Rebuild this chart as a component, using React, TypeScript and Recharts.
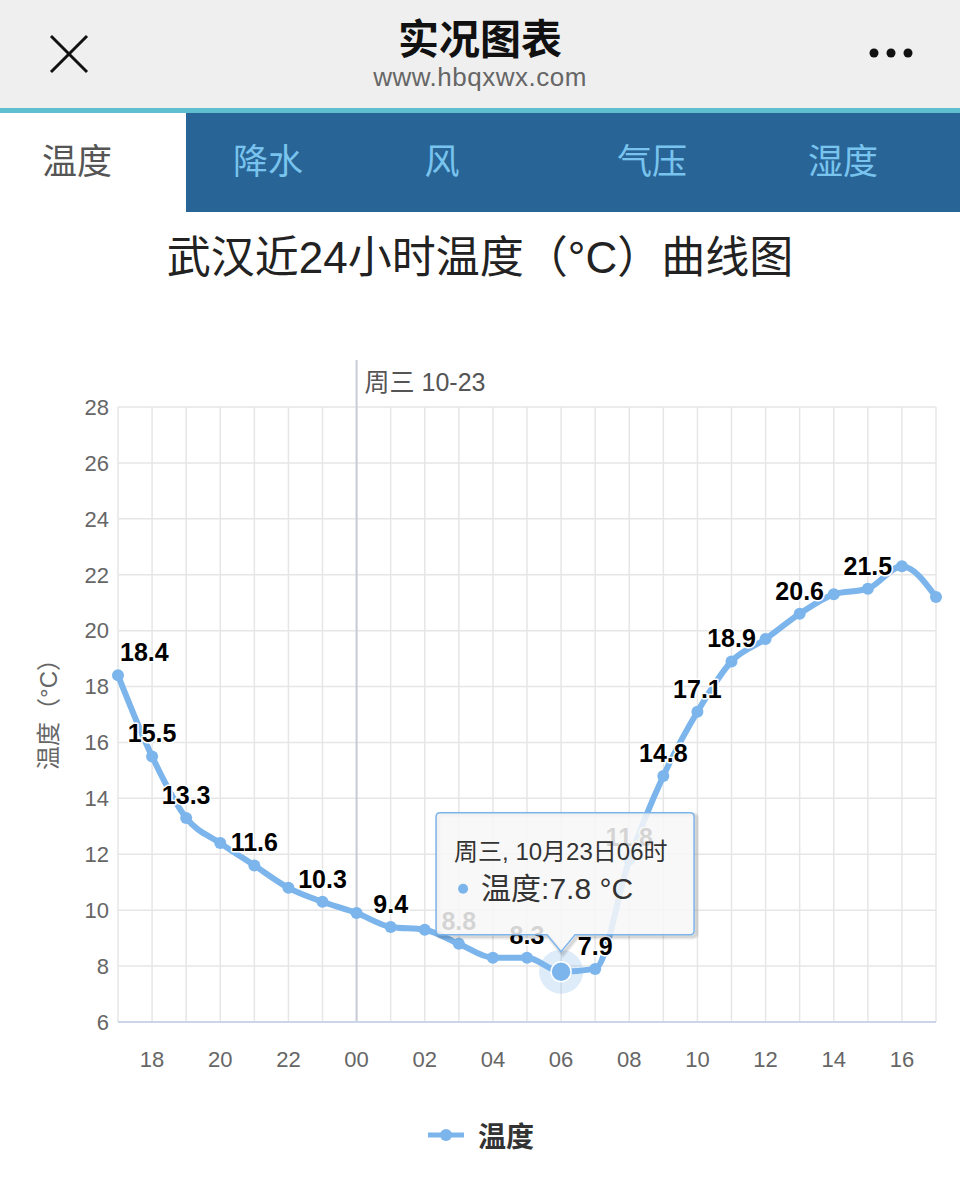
import React from 'react';
import {
  LineChart, Line, XAxis, YAxis, CartesianGrid, LabelList, Legend,
  ReferenceLine, ReferenceDot,
} from 'recharts';

// ---------- data ----------
const hours = ['17','18','19','20','21','22','23','00','01','02','03','04','05','06','07','08','09','10','11','12','13','14','15','16','17'];
const temps = [18.4,15.5,13.3,12.4,11.6,10.8,10.3,9.9,9.4,9.3,8.8,8.3,8.3,7.8,7.9,11.8,14.8,17.1,18.9,19.7,20.6,21.3,21.5,22.3,21.2];
const labelledIndices = [0,1,2,4,6,8,10,12,14,15,16,17,18,20,22];
const xTickLabels = ['18','20','22','00','02','04','06','08','10','12','14','16'];
const yTicks = [6,8,10,12,14,16,18,20,22,24,26,28];
const seriesName = '温度';
const dayLabel = '周三 10-23';
const tooltipDate = '周三, 10月23日';
const activeHour = '06';
const tabs = ['温度','降水','风','气压','湿度'];

const data = hours.map((h, i) => ({ t: i, h, v: temps[i] }));
const xTicks = hours.map((_, i) => i);
const midnightIdx = hours.indexOf('00');
const activeIdx = hours.indexOf(activeHour);

const BLUE = '#7cb5ec';
const FONT = "'Liberation Sans', 'Noto Sans CJK SC', sans-serif";
const PLOT_LEFT = 118;

const DataLabel = (props: any) => {
  const { x, y, value, index } = props;
  if (!labelledIndices.includes(index)) return null;
  const txt = String(value);
  const fs = 25;
  const w = txt.replace('.', '').length * 0.556 * fs + 0.278 * fs;
  let cx = x;
  if (cx - w / 2 < PLOT_LEFT + 2) cx = PLOT_LEFT + 2 + w / 2;
  return (
    <text x={cx} y={y - 14} textAnchor="middle" fontSize={fs} fontWeight="bold"
      fill="#000" stroke="#fff" strokeWidth={3} paintOrder="stroke" strokeLinejoin="round"
      style={{ fontFamily: FONT }}>
      {txt}
    </text>
  );
};

const MidnightLine = (props: any) => {
  const { x1, y1, x2, y2 } = props;
  const top = Math.min(y1, y2);
  const bottom = Math.max(y1, y2);
  return (
    <g>
      <line x1={x1} y1={top - 47} x2={x2} y2={bottom} stroke="#c8ccd6" strokeWidth={2} />
      <text x={x1 + 8} y={top - 16} fontSize={25} fill="#555" style={{ fontFamily: FONT }}>{dayLabel}</text>
    </g>
  );
};

const TooltipShape = (props: any) => {
  const { cx, cy } = props;
  const L = cx - 125, R = cx + 133, T = cy - 159, B = cy - 37, r = 4;
  const tipY = cy - 20;
  const d = `M${L + r},${T} H${R - r} Q${R},${T} ${R},${T + r} V${B - r} Q${R},${B} ${R - r},${B} H${cx + 14} L${cx},${tipY} L${cx - 14},${B} H${L + r} Q${L},${B} ${L},${B - r} V${T + r} Q${L},${T} ${L + r},${T} Z`;
  return (
    <g>
      <circle cx={cx} cy={cy} r={22} fill={BLUE} opacity={0.25} />
      <circle cx={cx} cy={cy} r={10} fill={BLUE} stroke="#fff" strokeWidth={1.5} />
      <path d={d} fill="none" stroke="#000" strokeOpacity={0.06} strokeWidth={6} transform="translate(2,2)" />
      <path d={d} fill="none" stroke="#000" strokeOpacity={0.1} strokeWidth={3} transform="translate(2,2)" />
      <path d={d} fill="rgba(247,247,247,0.86)" stroke={BLUE} strokeWidth={1.5} />
      <text x={cx - 107} y={cy - 112} fontSize={24} fill="#333" style={{ fontFamily: FONT }}>
        {`${tooltipDate}${hours[activeIdx]}时`}
      </text>
      <circle cx={cx - 98} cy={cy - 83} r={5} fill={BLUE} />
      <text x={cx - 80} y={cy - 73} fontSize={30} fill="#333" style={{ fontFamily: FONT }}>
        {`${seriesName}:${temps[activeIdx]} °C`}
      </text>
    </g>
  );
};

const LegendContent = () => (
  <div style={{ height: 80, display: 'flex', alignItems: 'flex-end', justifyContent: 'center' }}>
    <div style={{ display: 'flex', alignItems: 'center', height: 30, marginBottom: 2 }}>
      <svg width={40} height={20} style={{ marginRight: 12 }}>
        <line x1={2} y1={10} x2={38} y2={10} stroke={BLUE} strokeWidth={5} />
        <circle cx={20} cy={10} r={6} fill={BLUE} />
      </svg>
      <span style={{ fontSize: 28, fontWeight: 'bold', color: '#333', fontFamily: FONT }}>{seriesName}</span>
    </div>
  </div>
);

const YLabel = (props: any) => {
  const vb = props.viewBox || { x: 58, y: 407, width: 60, height: 615 };
  const x = vb.x - 10;
  const y = vb.y + vb.height / 2 - 6;
  return (
    <text x={x} y={y} transform={`rotate(-90 ${x} ${y})`} textAnchor="middle" dominantBaseline="central"
      fontSize={24} fill="#666" style={{ fontFamily: FONT }}>
      温度（°C）
    </text>
  );
};

export default function App() {
  return (
    <div style={{ position: 'absolute', left: 0, top: 0, width: 960, height: 1189, background: '#fff', fontFamily: FONT, overflow: 'hidden' }}>
      {/* header */}
      <div style={{ position: 'absolute', left: 0, top: 0, width: 960, height: 108, background: '#efefef' }} />
      <svg style={{ position: 'absolute', left: 48, top: 34 }} width={42} height={40}>
        <line x1={3} y1={2} x2={39} y2={38} stroke="#111" strokeWidth={3} />
        <line x1={39} y1={2} x2={3} y2={38} stroke="#111" strokeWidth={3} />
      </svg>
      <div style={{ position: 'absolute', left: 0, width: 960, top: 14, textAlign: 'center', fontSize: 41, fontWeight: 'bold', color: '#111', lineHeight: '52px' }}>实况图表</div>
      <div style={{ position: 'absolute', left: 0, width: 960, top: 62, textAlign: 'center', fontSize: 26, color: '#666', lineHeight: '30px', letterSpacing: 0.5 }}>www.hbqxwx.com</div>
      <svg style={{ position: 'absolute', left: 866, top: 45 }} width={50} height={16}>
        <circle cx={8} cy={8} r={4.5} fill="#111" />
        <circle cx={25} cy={8} r={4.5} fill="#111" />
        <circle cx={42} cy={8} r={4.5} fill="#111" />
      </svg>
      {/* tabs */}
      <div style={{ position: 'absolute', left: 0, top: 108, width: 960, height: 5, background: '#5fbfcf' }} />
      <div style={{ position: 'absolute', left: 0, top: 113, width: 960, height: 99, background: '#296496' }} />
      <div style={{ position: 'absolute', left: 0, top: 113, width: 186, height: 100, background: '#fff' }} />
      {tabs.map((t, i) => {
        const centers = [77, 268, 442, 652, 843];
        return (
          <div key={i} style={{ position: 'absolute', top: 140, left: centers[i] - 100, width: 200, textAlign: 'center', fontSize: 35, lineHeight: '44px', color: i === 0 ? '#555' : '#78c4ee' }}>{t}</div>
        );
      })}
      {/* title */}
      <div style={{ position: 'absolute', left: 0, width: 960, top: 231, textAlign: 'center', fontSize: 44, color: '#222', lineHeight: '54px' }}>武汉近24小时温度（°C）曲线图</div>

      <div style={{ position: 'absolute', left: 0, top: 340 }}>
        <LineChart width={960} height={840} data={data} margin={{ top: 67, right: 24, bottom: 28, left: 58 }}>
          <CartesianGrid stroke="#e6e6e6" strokeWidth={1.5} />
          <XAxis type="number" dataKey="t" domain={[0, 24]} ticks={xTicks} interval={0}
            tickFormatter={(t: number) => (t > 0 && t < 24 && xTickLabels.includes(hours[t]) ? hours[t] : '')}
            tickLine={false} tickSize={0} tickMargin={29} height={50}
            axisLine={{ stroke: '#ccd6eb', strokeWidth: 2 }}
            tick={{ fill: '#666', fontSize: 22, fontFamily: FONT }} />
          <YAxis type="number" domain={[6, 28]} ticks={yTicks} interval={0} width={60}
            axisLine={false} tickLine={false} tickSize={0} tickMargin={9}
            tick={{ fill: '#666', fontSize: 22, fontFamily: FONT }}
            label={<YLabel />} />
          <ReferenceLine x={midnightIdx} shape={<MidnightLine />} ifOverflow="visible" />
          <Line type="monotone" dataKey="v" name={seriesName} stroke={BLUE} strokeWidth={6}
            dot={{ r: 6, fill: BLUE, stroke: BLUE, strokeWidth: 0 }} activeDot={false}
            isAnimationActive={false}>
            <LabelList dataKey="v" content={<DataLabel />} />
          </Line>
          <ReferenceDot x={activeIdx} y={temps[activeIdx]} shape={<TooltipShape />} ifOverflow="visible" zIndex={3000} />
          <Legend verticalAlign="bottom" height={80} content={<LegendContent />} wrapperStyle={{ left: 0, width: 960 }} />
        </LineChart>
      </div>
    </div>
  );
}
